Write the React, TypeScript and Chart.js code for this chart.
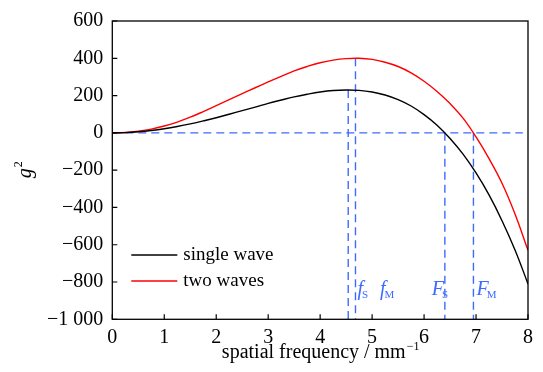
import React, { useEffect, useRef } from 'react';
import { Chart, registerables } from 'chart.js';

Chart.register(...registerables);

// spatial frequency (mm^-1)
const frequency = [0, 0.25, 0.5, 0.75, 1, 1.25, 1.5, 1.75, 2, 2.25, 2.5, 2.75, 3, 3.25, 3.5, 3.75, 4, 4.25, 4.5, 4.75, 5, 5.25, 5.5, 5.75, 6, 6.25, 6.5, 6.75, 7, 7.25, 7.5, 7.75, 8];
// g^2, single wave
const singleWave = [0, 1.4, 5.6, 12.5, 22, 34, 48, 64, 81, 100, 119, 138, 158, 176, 193, 207, 219, 227, 230, 228, 219, 203, 178, 144, 98, 41, -30, -114, -215, -333, -471, -628, -810];
// g^2, two waves
const twoWaves = [0, 2, 9, 20, 37, 58, 84, 114, 146, 178, 210, 242, 273, 303, 332, 356, 376, 390, 398, 400, 394, 379, 356, 322, 277, 222, 157, 79, -22, -138, -270, -435, -630];

// guide lines: peaks and zero crossings
const guideFreq = [4.54, 4.68, 6.4, 6.95];
const guideTop = [230, 400, 0, 0];
const zeroLineEnd = 7.9;
const yMin = -1000;
const guideLabelMain = ['f', 'f', 'F', 'F'];
const guideLabelSub = ['S', 'M', 'S', 'M'];
const guideLabelFreq = [4.72, 5.15, 6.15, 7.01];

const seriesLabels = ['single wave', 'two waves'];
const seriesColors = ['#000000', '#ff0000'];
const guideColor = '#3d6bff';
const SERIF = '"Liberation Serif", "Times New Roman", Times, serif';

function fmtY(v: number): string {
  const abs = Math.abs(v);
  let s = abs >= 1000 ? Math.floor(abs / 1000) + ' ' + String(abs % 1000).padStart(3, '0') : String(abs);
  return v < 0 ? '\u2212' + s : s;
}

const decorPlugin = {
  id: 'decor',
  afterDatasetsDraw(chart: any) {
    const ctx = chart.ctx;
    const { left, right, top, bottom } = chart.chartArea;
    const xs = chart.scales.x;
    const ys = chart.scales.y;
    ctx.save();
    // frame
    ctx.strokeStyle = '#000';
    ctx.lineWidth = 1.3;
    ctx.strokeRect(left, top, right - left, bottom - top);
    // inward ticks
    ctx.lineWidth = 1.2;
    ctx.beginPath();
    xs.ticks.forEach((t: any) => {
      const px = xs.getPixelForValue(t.value);
      ctx.moveTo(px, bottom);
      ctx.lineTo(px, bottom - 5);
    });
    ys.ticks.forEach((t: any) => {
      const py = ys.getPixelForValue(t.value);
      ctx.moveTo(left, py);
      ctx.lineTo(left + 5, py);
    });
    ctx.stroke();

    // legend
    ctx.font = '19px ' + SERIF;
    ctx.textBaseline = 'middle';
    ctx.textAlign = 'left';
    [0, 1].forEach((i) => {
      const ly = top + 234 + i * 26;
      ctx.strokeStyle = seriesColors[i];
      ctx.lineWidth = 1.3;
      ctx.beginPath();
      ctx.moveTo(left + 19, ly);
      ctx.lineTo(left + 65, ly);
      ctx.stroke();
      ctx.fillStyle = '#000';
      ctx.fillText(seriesLabels[i], left + 71, ly);
    });

    // guide labels
    ctx.fillStyle = guideColor;
    ctx.textBaseline = 'alphabetic';
    guideLabelFreq.forEach((f, i) => {
      const px = xs.getPixelForValue(f);
      const by = bottom - 24;
      ctx.font = 'italic 20px ' + SERIF;
      ctx.fillText(guideLabelMain[i], px, by);
      const w = ctx.measureText(guideLabelMain[i]).width;
      ctx.font = '11px ' + SERIF;
      ctx.fillText(guideLabelSub[i], px + w - (guideLabelMain[i] === 'f' ? 1 : 2), by + 3);
    });

    // y title g^2
    ctx.fillStyle = '#000';
    ctx.translate(31, (top + bottom) / 2);
    ctx.rotate(-Math.PI / 2);
    ctx.font = 'italic 20px ' + SERIF;
    const gw = ctx.measureText('g').width;
    ctx.font = '12px ' + SERIF;
    const sw = ctx.measureText('2').width;
    const startX = -(gw + sw) / 2;
    ctx.font = 'italic 20px ' + SERIF;
    ctx.fillText('g', startX, 0);
    ctx.font = '12px ' + SERIF;
    ctx.fillText('2', startX + gw + 1, -9);
    ctx.setTransform(1, 0, 0, 1, 0, 0);

    // x title
    ctx.fillStyle = '#000';
    const main = 'spatial frequency / mm';
    const sup = '\u22121';
    ctx.font = '20px ' + SERIF;
    const mw = ctx.measureText(main).width;
    ctx.font = '12px ' + SERIF;
    const supw = ctx.measureText(sup).width;
    const cx = (left + right) / 2;
    const tx = cx - (mw + supw) / 2;
    const ty = 358;
    ctx.font = '20px ' + SERIF;
    ctx.fillText(main, tx, ty);
    ctx.font = '12px ' + SERIF;
    ctx.fillText(sup, tx + mw + 1, ty - 8);
    ctx.restore();
  },
};

export default function App() {
  const ref = useRef<HTMLCanvasElement>(null);
  useEffect(() => {
    if (!ref.current) return;
    const guideSets = guideFreq.map((f, i) => ({
      label: 'guide' + i,
      data: [
        { x: f, y: guideTop[i] },
        { x: f, y: yMin },
      ],
      borderColor: guideColor,
      borderWidth: 1.4,
      borderDash: [8, 5],
      pointRadius: 0,
      tension: 0,
    }));
    const zeroSet = {
      label: 'zero',
      data: [
        { x: 0, y: 0 },
        { x: zeroLineEnd, y: 0 },
      ],
      borderColor: guideColor,
      borderWidth: 1.4,
      borderDash: [8, 5],
      pointRadius: 0,
      tension: 0,
    };
    const curve = (vals: number[], i: number) => ({
      label: seriesLabels[i],
      data: frequency.map((f, j) => ({ x: f, y: vals[j] })),
      borderColor: seriesColors[i],
      borderWidth: 1.4,
      pointRadius: 0,
      tension: 0.4,
    });
    const chart = new Chart(ref.current, {
      type: 'line',
      data: {
        datasets: [curve(singleWave, 0), curve(twoWaves, 1), zeroSet, ...guideSets] as any,
      },
      options: {
        animation: false,
        responsive: false,
        maintainAspectRatio: false,
        layout: { padding: { top: 16, right: 15, left: 0, bottom: 0 } },
        plugins: { legend: { display: false }, tooltip: { enabled: false } },
        scales: {
          x: {
            type: 'linear',
            min: 0,
            max: 8,
            ticks: { stepSize: 1, color: '#000', font: { family: SERIF, size: 20 }, padding: 6, maxRotation: 0 },
            grid: { display: false, drawTicks: false },
            border: { display: false },
            afterFit: (s: any) => {
              s.height = 52.7;
            },
          },
          y: {
            type: 'linear',
            min: -1000,
            max: 600,
            ticks: {
              stepSize: 200,
              color: '#000',
              font: { family: SERIF, size: 20 },
              padding: 9,
              callback: (v: any) => fmtY(Number(v)),
            },
            grid: { display: false, drawTicks: false },
            border: { display: false },
            afterFit: (s: any) => {
              s.width = 112.3;
            },
          },
        },
      },
      plugins: [decorPlugin],
    });
    return () => chart.destroy();
  }, []);
  return (
    <div style={{ position: 'absolute', left: 0, top: 0, width: 543, height: 372, background: '#fff' }}>
      <canvas ref={ref} width={543} height={372} style={{ display: 'block', width: 543, height: 372 }} />
    </div>
  );
}
